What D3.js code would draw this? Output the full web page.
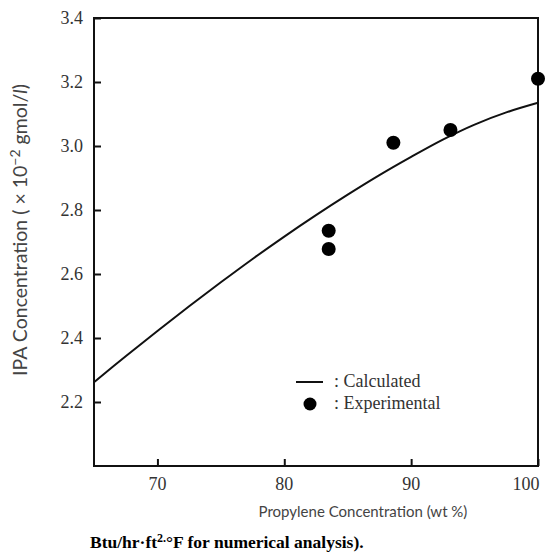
<!DOCTYPE html>
<html>
<head>
<meta charset="utf-8">
<script src="https://cdn.jsdelivr.net/npm/d3@7"></script>
<style>
  body { margin: 0; background: #fff; }
  svg { display: block; }
</style>
</head>
<body>
<div id="chart"></div>
<script>
const width = 545;
const height = 557;
const margin = {top: 18, left: 94, bottom: 91, right: 7};

// calculated curve (propylene wt %, IPA conc x 10^-2 gmol/l)
const calcX = [65, 67.5, 70, 72.5, 75, 77.5, 80, 82.5, 85, 87.5, 90, 92.5, 95, 97.5, 100];
const calcY = [2.262, 2.343, 2.422, 2.499, 2.574, 2.647, 2.717, 2.784, 2.848, 2.909, 2.966, 3.02, 3.067, 3.105, 3.135];

// experimental points
const expX = [83.5, 83.5, 88.6, 93.1, 100];
const expY = [2.735, 2.678, 3.01, 3.05, 3.21];

const xTicks = [70, 80, 90, 100];
const yTicks = [2.2, 2.4, 2.6, 2.8, 3.0, 3.2, 3.4];

const x = d3.scaleLinear()
  .domain([65, 100])
  .range([margin.left, width - margin.right]);

const y = d3.scaleLinear()
  .domain([2.0, 3.4])
  .range([height - margin.bottom, margin.top]);

const svg = d3.select('#chart').append('svg')
  .attr('width', width)
  .attr('height', height);

// frame
svg.append('rect')
  .attr('x', x(65))
  .attr('y', y(3.4))
  .attr('width', x(100) - x(65))
  .attr('height', y(2.0) - y(3.4))
  .attr('fill', 'none')
  .attr('stroke', '#111')
  .attr('stroke-width', 2);

// y axis: ticks point inward
svg.append('g')
  .attr('transform', `translate(${x(65)},0)`)
  .call(d3.axisRight(y).tickValues(yTicks).tickSize(7).tickFormat(''))
  .call(g => g.select('.domain').remove())
  .call(g => g.selectAll('line').attr('stroke', '#111').attr('stroke-width', 2));

svg.append('g')
  .selectAll('text').data(yTicks).enter().append('text')
  .attr('x', x(65) - 11)
  .attr('y', d => y(d) + 6)
  .attr('text-anchor', 'end')
  .attr('font-family', 'Liberation Serif, serif')
  .attr('font-size', 18)
  .attr('fill', '#333')
  .text(d => d.toFixed(1));

// x axis: ticks point inward
svg.append('g')
  .attr('transform', `translate(0,${y(2.0)})`)
  .call(d3.axisTop(x).tickValues(xTicks).tickSize(7).tickFormat(''))
  .call(g => g.select('.domain').remove())
  .call(g => g.selectAll('line').attr('stroke', '#111').attr('stroke-width', 2));

svg.append('g')
  .selectAll('text').data(xTicks).enter().append('text')
  .attr('x', d => x(d) + (d === 100 ? -12 : 0))
  .attr('y', y(2.0) + 24)
  .attr('text-anchor', 'middle')
  .attr('font-family', 'Liberation Serif, serif')
  .attr('font-size', 18)
  .attr('fill', '#333')
  .text(d => d);

// axis titles
svg.append('text')
  .attr('x', 363)
  .attr('y', 517)
  .attr('text-anchor', 'middle')
  .attr('font-family', 'Lato, sans-serif')
  .attr('font-size', 15)
  .attr('fill', '#444')
  .text('Propylene Concentration (wt  %)');

const yTitle = svg.append('text')
  .attr('transform', 'translate(27,230) rotate(-90)')
  .attr('text-anchor', 'middle')
  .attr('font-family', 'Lato, sans-serif')
  .attr('font-size', 19.5)
  .attr('fill', '#444');
yTitle.append('tspan').text('IPA Concentration ( \u00d7 10');
yTitle.append('tspan').attr('dy', -7).attr('font-size', 14).text('\u22122');
yTitle.append('tspan').attr('dy', 7).text(' gmol/');
yTitle.append('tspan').attr('font-style', 'italic').text('l');
yTitle.append('tspan').text(')');

// calculated line
const line = d3.line()
  .x(d => x(d[0]))
  .y(d => y(d[1]))
  .curve(d3.curveCatmullRom);

svg.append('path')
  .datum(d3.zip(calcX, calcY))
  .attr('d', line)
  .attr('fill', 'none')
  .attr('stroke', '#111')
  .attr('stroke-width', 2);

// experimental points
svg.append('g')
  .selectAll('circle').data(d3.zip(expX, expY)).enter().append('circle')
  .attr('cx', d => x(d[0]))
  .attr('cy', d => y(d[1]))
  .attr('r', 7)
  .attr('fill', '#000');

// legend
const legend = svg.append('g').attr('font-family', 'Liberation Serif, serif').attr('font-size', 18).attr('fill', '#333');
legend.append('line')
  .attr('x1', 296).attr('x2', 323)
  .attr('y1', 382).attr('y2', 382)
  .attr('stroke', '#111').attr('stroke-width', 2);
legend.append('text').attr('x', 334).attr('y', 387).text(': Calculated');
legend.append('circle').attr('cx', 310).attr('cy', 404).attr('r', 6.5).attr('fill', '#000');
legend.append('text').attr('x', 334).attr('y', 409).text(': Experimental');

// caption fragment below the chart
const cap = svg.append('text')
  .attr('x', 90)
  .attr('y', 548)
  .attr('font-family', 'Liberation Serif, serif')
  .attr('font-weight', 'bold')
  .attr('font-size', 17.5)
  .attr('fill', '#000');
cap.append('tspan').text('Btu/hr\u00b7ft');
cap.append('tspan').attr('dy', -6).attr('font-size', 12).text('2.');
cap.append('tspan').attr('dy', 6).text('\u00b0F for numerical analysis).');
</script>
</body>
</html>
